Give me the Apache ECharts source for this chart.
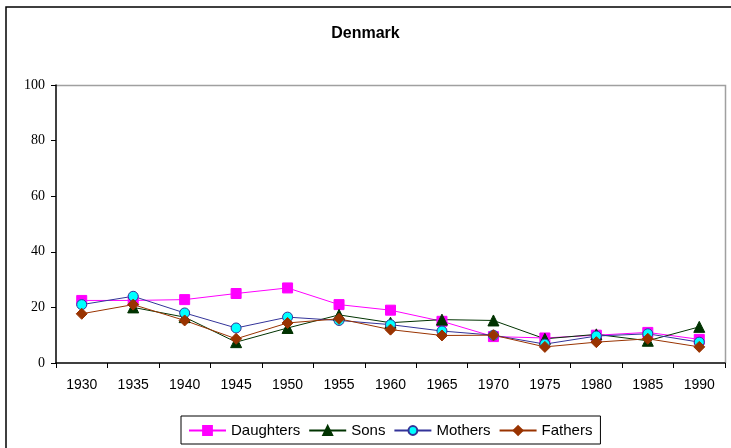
<!DOCTYPE html>
<html lang="en">
<head>
    <meta charset="UTF-8">
    <title>Denmark</title>
    <script src="https://cdn.jsdelivr.net/npm/echarts@6/dist/echarts.min.js"></script>
</head>
<body style="margin:0;background:#fff;">
    <div id="main" style="width:731px;height:448px;"></div>
    <script type="text/javascript">
       var years = ['1930','1935','1940','1945','1950','1955','1960','1965','1970','1975','1980','1985','1990'];
       var daughters = [22.5, 22.5, 22.8, 25, 27, 21, 19, 15, 9.5, 9, 10, 11, 8.5];
       var sons      = ['-', 20, 16.5, 7.5, 12.6, 17.3, 14.5, 15.6, 15.3, 8.7, 10.3, 8, 13];
       var mothers   = [21, 24, 18, 12.6, 16.5, 15.3, 13.8, 11.5, 10, 6.8, 9.7, 10.5, 7.5];
       var fathers   = [17.7, 21, 15.3, 8.7, 14.4, 15.9, 12, 9.9, 10, 5.8, 7.5, 8.7, 5.8];
       var yTicks = [0, 20, 40, 60, 80, 100];

       var myChart = echarts.init(document.getElementById('main'));

       function line(name, data, color, symbol, fill, size) {
           return {
               name: name,
               type: 'line',
               data: data,
               symbol: symbol,
               symbolSize: size,
               showAllSymbol: true,
               connectNulls: false,
               lineStyle: { color: color, width: 1 },
               itemStyle: { color: fill, borderColor: color, borderWidth: 1 },
               emphasis: { disabled: true },
               animation: false
           };
       }

       var option = {
           animation: false,
           title: {
               text: 'Denmark',
               left: 'center',
               top: 21,
               textStyle: { fontFamily: 'Liberation Sans', fontSize: 16, fontWeight: 'bold', color: '#000' }
           },
           graphic: [{
               type: 'rect',
               shape: { x: 6, y: 7, width: 760, height: 470 },
               style: { fill: 'none', stroke: '#000', lineWidth: 1.5 },
               z: -1
           }, {
               type: 'polyline',
               shape: { points: [[56, 85.5], [725.5, 85.5], [725.5, 363]] },
               style: { fill: 'none', stroke: '#a0a0a0', lineWidth: 1.5 }
           }],
           legend: {
               left: 181,
               top: 416,
               padding: [7, 8, 6, 7],
               borderColor: '#000',
               borderWidth: 1,
               itemGap: 8,
               itemWidth: 37,
               itemHeight: 11,
               textStyle: { fontFamily: 'Liberation Sans', fontSize: 15, color: '#000' },
               data: ['Daughters', 'Sons', 'Mothers', 'Fathers']
           },
           grid: { left: 56, right: 6, top: 85, bottom: 85 },
           xAxis: {
               type: 'category',
               data: years,
               boundaryGap: true,
               axisLine: { lineStyle: { color: '#000', width: 1.5 } },
               axisTick: { show: true, length: 5, lineStyle: { color: '#000' } },
               axisLabel: { fontFamily: 'Liberation Sans', fontSize: 14, color: '#000', margin: 15 },
               splitLine: { show: false }
           },
           yAxis: {
               type: 'value',
               min: yTicks[0],
               max: yTicks[yTicks.length - 1],
               interval: 20,
               axisLine: { show: true, lineStyle: { color: '#000', width: 1.5 } },
               axisTick: { show: true, length: 5, lineStyle: { color: '#000' } },
               axisLabel: { fontFamily: 'Liberation Serif', fontSize: 14, color: '#000', margin: 11 },
               splitLine: { show: false }
           },
           series: [
               line('Daughters', daughters, '#ff00ff', 'rect', '#ff00ff', 10),
               line('Sons', sons, '#003300', 'triangle', '#003300', 11),
               line('Mothers', mothers, '#333399', 'circle', '#00ffff', 10),
               line('Fathers', fathers, '#993300', 'diamond', '#993300', 11)
           ]
       };

       myChart.setOption(option);
    </script>
</body>
</html>
